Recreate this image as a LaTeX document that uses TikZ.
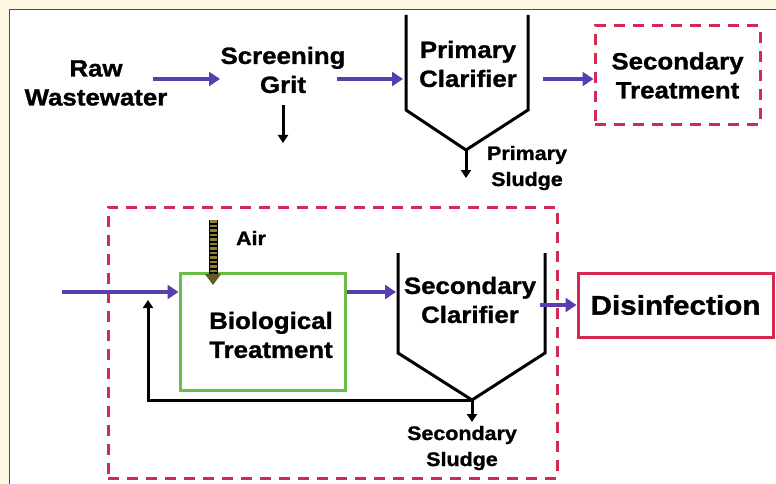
\documentclass[tikz,border=0pt]{standalone}
\usepackage{fontspec}
\setmainfont{Liberation Sans}
\newfontfamily\heavy{Liberation Sans Bold}[FakeBold=1.2, FakeStretch=1.1]
\usetikzlibrary{arrows.meta}
\definecolor{flowblue}{RGB}{88,62,175}
\definecolor{redash}{RGB}{212,42,82}
\definecolor{biogreen}{RGB}{102,190,72}
\definecolor{airolive}{RGB}{140,128,50}
\definecolor{paper}{RGB}{255,249,228}
\tikzset{
  lbl/.style={font=\heavy\fontsize{23.5}{29}\selectfont, align=center, inner sep=0pt},
  small/.style={font=\heavy\fontsize{19.5}{26}\selectfont, align=center, inner sep=0pt},
  flow/.style={draw=flowblue, line width=4pt, -{Triangle[length=11pt,width=14pt]}},
  drop/.style={draw=black, line width=3pt, -{Triangle[length=8pt,width=10pt]}},
  tank/.style={draw=black, line width=3pt, line join=miter},
  dashbox/.style={draw=redash, line width=3pt, dash pattern=on 11pt off 8pt},
}
\begin{document}
\begin{tikzpicture}[x=1pt,y=-1pt]
	\useasboundingbox (0,0) rectangle (776,484);
	% page frame
	\fill[paper] (0,0) rectangle (776,484);
	\fill[white] (10,10) rectangle (776,484);
	\draw[black!70, line width=1.2pt] (9.5,484)--(9.5,9.5)--(776,9.5);
	% primary line
	\node[lbl] (raw) at (96,83) {Raw\\Wastewater};
	\node[lbl] (screen) at (283,70) {Screening\\Grit};
	\draw[tank] (406,15)--(406,110)--(466,150)--(528,110)--(528,15);
	\coordinate (pc-v) at (466,150);
	\node[lbl] (pclar) at (468,64) {Primary\\Clarifier};
	\node[small] (psludge) at (527,168) {Primary\\Sludge};
	\node[lbl, dashbox, minimum width=165pt, minimum height=99pt] (sectreat) at (677.5,75.5) {Secondary\\Treatment};
	\coordinate (raw-out) at (153,79);
	\coordinate (scr-in) at (220,79);
	\coordinate (scr-out) at (337,79);
	\coordinate (pc-in) at (403,79);
	\coordinate (pc-out) at (543,79);
	\coordinate (grit) at (283,143);
	\draw[flow] (raw-out)--(scr-in);
	\draw[flow] (scr-out)--(pc-in);
	\draw[flow] (pc-out)--(pc-out -| sectreat.west);
	\draw[drop] (screen.south |- 0,105)--(grit);
	\draw[drop] (pc-v)--(466,178);
	% secondary treatment
	\node[dashbox, minimum width=449pt, minimum height=271pt] (secgroup) at (332.5,342.5) {};
	\node[draw=biogreen, line width=3pt, minimum width=165pt, minimum height=117pt] (bio) at (262.5,331.5) {};
	\node[lbl] (biotext) at (271,335) {Biological\\Treatment};
	\node[small] (air) at (251,238) {Air};
	\draw[tank] (398,253)--(398,353)--(472,400)--(545,353)--(545,253);
	\coordinate (sc-v) at (472,400);
	\node[lbl] (sclar) at (470,300) {Secondary\\Clarifier};
	\node[small] (ssludge) at (462,448) {Secondary\\Sludge};
	\node[draw=redash, line width=3pt, minimum width=195pt, minimum height=64pt, font=\heavy\fontsize{27}{32}\selectfont] (disinf) at (675.5,305) {Disinfection};
	\coordinate (feed) at (62,292);
	\coordinate (sc-in) at (396,292);
	\coordinate (sc-out) at (540,305);
	\coordinate (air-top) at (213,220);
	\coordinate (recycle) at (148,300);
	\draw[flow] (feed)--(feed -| bio.west);
	\draw[flow] (sc-in -| bio.east)--(sc-in);
	\draw[flow] (sc-out)--(disinf.west);
	\draw[black, line width=9pt] (air-top)--(213,274);
	\draw[airolive, line width=7pt, dash pattern=on 2.5pt off 2pt] (air-top)--(213,274);
	\draw[airolive!70!black, line width=1pt, -{Triangle[length=11pt,width=16pt]}] (213,273)--(213,285);
	\draw[drop] (sc-v)--(472,422);
	\draw[drop] (sc-v)-|(recycle);
\end{tikzpicture}
\end{document}
